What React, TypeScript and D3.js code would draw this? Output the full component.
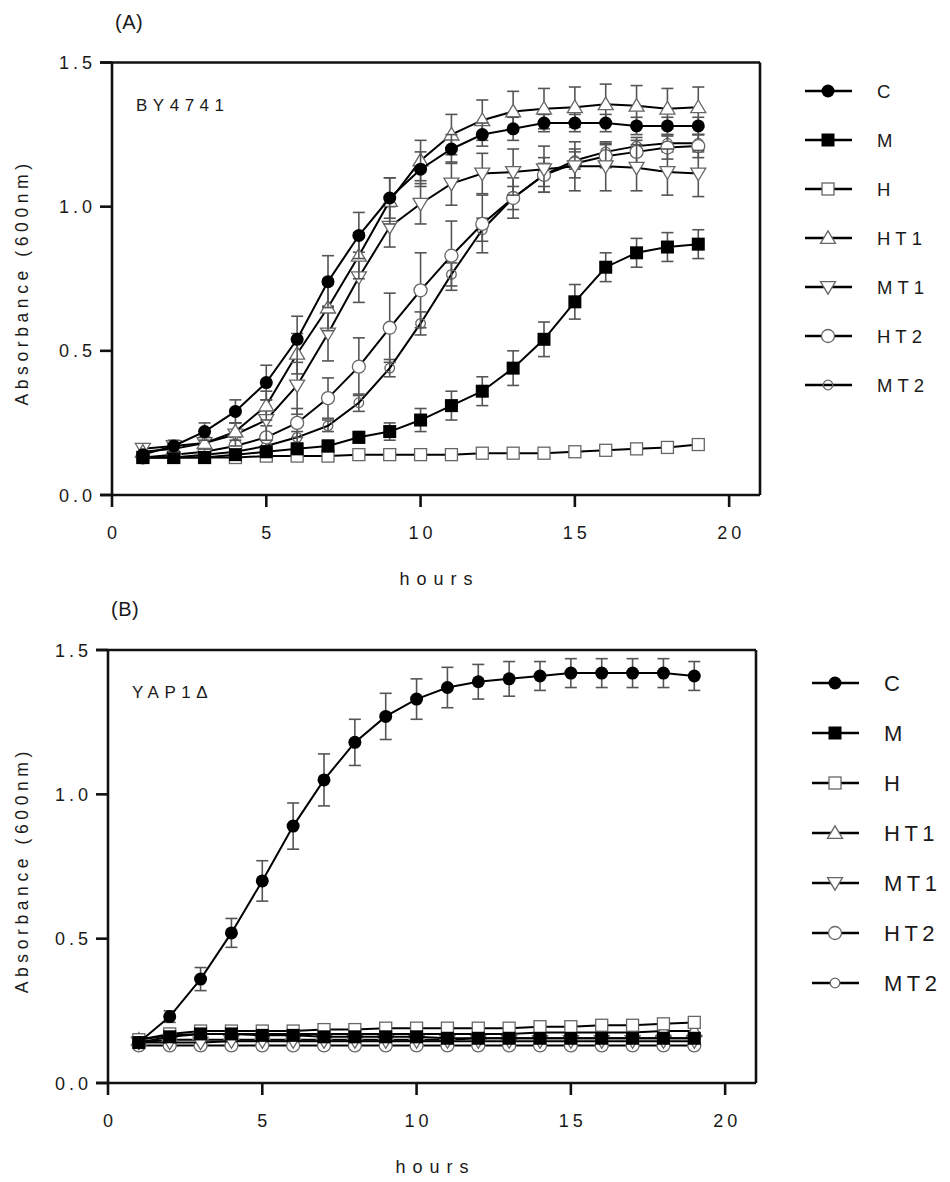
import React from "react";
import * as d3 from "d3";

const hours = [1,2,3,4,5,6,7,8,9,10,11,12,13,14,15,16,17,18,19];
const seriesNames = ["C","M","H","HT1","MT1","HT2","MT2"];
const xTicks = [0,5,10,15,20];
const yTicks = [0,0.5,1.0,1.5];
const yTickLabels = ["0.0","0.5","1.0","1.5"];

// Panel A (BY4741)
const aC = [0.14,0.17,0.22,0.29,0.39,0.54,0.74,0.90,1.03,1.13,1.20,1.25,1.27,1.29,1.29,1.29,1.28,1.28,1.28];
const aCErr = [0.01,0.02,0.03,0.04,0.06,0.08,0.09,0.08,0.07,0.06,0.05,0.04,0.04,0.03,0.03,0.03,0.03,0.03,0.03];
const aM = [0.13,0.13,0.13,0.14,0.15,0.16,0.17,0.20,0.22,0.26,0.31,0.36,0.44,0.54,0.67,0.79,0.84,0.86,0.87];
const aMErr = [0.01,0.01,0.01,0.01,0.01,0.01,0.02,0.02,0.03,0.04,0.05,0.05,0.06,0.06,0.06,0.05,0.05,0.05,0.05];
const aH = [0.13,0.13,0.13,0.13,0.135,0.135,0.135,0.14,0.14,0.14,0.14,0.145,0.145,0.145,0.15,0.155,0.16,0.165,0.175];
const aHErr = [0.005,0.005,0.005,0.005,0.005,0.005,0.005,0.005,0.005,0.005,0.005,0.005,0.005,0.005,0.005,0.005,0.005,0.005,0.005];
const aHT1 = [0.15,0.16,0.18,0.22,0.31,0.49,0.65,0.83,1.02,1.16,1.25,1.30,1.33,1.34,1.345,1.355,1.35,1.34,1.345];
const aHT1Err = [0.01,0.01,0.02,0.03,0.05,0.07,0.08,0.08,0.08,0.07,0.07,0.07,0.07,0.07,0.07,0.07,0.07,0.07,0.07];
const aMT1 = [0.16,0.17,0.18,0.21,0.26,0.38,0.56,0.755,0.93,1.01,1.08,1.115,1.12,1.13,1.14,1.14,1.135,1.12,1.115];
const aMT1Err = [0.01,0.01,0.02,0.04,0.07,0.10,0.095,0.087,0.07,0.07,0.075,0.07,0.08,0.08,0.085,0.085,0.08,0.08,0.08];
const aHT2 = [0.13,0.14,0.15,0.17,0.20,0.25,0.336,0.445,0.58,0.71,0.83,0.94,1.03,1.11,1.15,1.175,1.19,1.205,1.21];
const aHT2Err = [0.01,0.01,0.02,0.03,0.04,0.05,0.07,0.10,0.12,0.13,0.12,0.10,0.07,0.06,0.05,0.04,0.04,0.04,0.04];
const aMT2 = [0.13,0.13,0.14,0.15,0.17,0.20,0.24,0.32,0.44,0.595,0.765,0.92,1.03,1.11,1.16,1.19,1.21,1.22,1.22];
const aMT2Err = [0.005,0.01,0.01,0.01,0.02,0.02,0.02,0.03,0.03,0.04,0.04,0.04,0.04,0.04,0.03,0.03,0.03,0.03,0.03];

// Panel B (YAP1Δ)
const bC = [0.14,0.23,0.36,0.52,0.70,0.89,1.05,1.18,1.27,1.33,1.37,1.39,1.40,1.41,1.42,1.42,1.42,1.42,1.41];
const bCErr = [0.01,0.02,0.04,0.05,0.07,0.08,0.09,0.08,0.08,0.07,0.07,0.06,0.06,0.05,0.05,0.05,0.05,0.05,0.05];
const bM = [0.14,0.16,0.17,0.17,0.165,0.165,0.16,0.16,0.16,0.16,0.155,0.155,0.155,0.155,0.155,0.155,0.155,0.155,0.155];
const bH = [0.15,0.17,0.18,0.18,0.18,0.18,0.185,0.185,0.19,0.19,0.19,0.19,0.19,0.195,0.195,0.20,0.20,0.205,0.21];
const bHT1 = [0.15,0.165,0.17,0.17,0.17,0.17,0.17,0.17,0.17,0.17,0.17,0.17,0.17,0.175,0.175,0.175,0.175,0.18,0.18];
const bMT1 = [0.14,0.14,0.14,0.145,0.145,0.145,0.145,0.145,0.145,0.145,0.145,0.145,0.145,0.145,0.145,0.145,0.145,0.145,0.145];
const bHT2 = [0.13,0.13,0.13,0.13,0.13,0.13,0.13,0.13,0.13,0.13,0.13,0.13,0.13,0.13,0.13,0.13,0.13,0.13,0.13];
const bMT2 = [0.14,0.15,0.15,0.15,0.15,0.15,0.15,0.15,0.15,0.15,0.15,0.155,0.155,0.155,0.155,0.155,0.155,0.155,0.155];
const bSmallErr = [0.005,0.005,0.005,0.005,0.005,0.005,0.005,0.005,0.005,0.005,0.005,0.005,0.005,0.005,0.005,0.005,0.005,0.005,0.005];

const FONT = "'Liberation Sans', Arial, sans-serif";
const TEXT = "#1a1a1a";

type Series = { name: string; values: number[]; errs: number[] };

const panelA: Series[] = [
  { name: "C", values: aC, errs: aCErr },
  { name: "M", values: aM, errs: aMErr },
  { name: "H", values: aH, errs: aHErr },
  { name: "HT1", values: aHT1, errs: aHT1Err },
  { name: "MT1", values: aMT1, errs: aMT1Err },
  { name: "HT2", values: aHT2, errs: aHT2Err },
  { name: "MT2", values: aMT2, errs: aMT2Err },
];
const panelB: Series[] = [
  { name: "C", values: bC, errs: bCErr },
  { name: "M", values: bM, errs: bSmallErr },
  { name: "H", values: bH, errs: bSmallErr },
  { name: "HT1", values: bHT1, errs: bSmallErr },
  { name: "MT1", values: bMT1, errs: bSmallErr },
  { name: "HT2", values: bHT2, errs: bSmallErr },
  { name: "MT2", values: bMT2, errs: bSmallErr },
];

function Marker({ name, x, y, hollowMT2 = false }: { name: string; x: number; y: number; hollowMT2?: boolean }) {
  const open = { fill: "#fff", stroke: "#666", strokeWidth: 1.3 };
  switch (name) {
    case "C":
      return <circle cx={x} cy={y} r={6.5} fill="#000" />;
    case "M":
      return <rect x={x - 6.5} y={y - 6.5} width={13} height={13} fill="#000" />;
    case "H":
      return <rect x={x - 6} y={y - 6} width={12} height={12} {...open} />;
    case "HT1":
      return <path d={`M${x},${y - 7.2}L${x + 7.5},${y + 5.4}L${x - 7.5},${y + 5.4}Z`} {...open} />;
    case "MT1":
      return <path d={`M${x},${y + 7.2}L${x + 7.5},${y - 5.4}L${x - 7.5},${y - 5.4}Z`} {...open} />;
    case "HT2":
      return <circle cx={x} cy={y} r={6.5} {...open} />;
    case "MT2":
      return <circle cx={x} cy={y} r={4.8} {...open} fill={hollowMT2 ? "none" : "#fff"} />;
  }
  return null;
}

function spacedText(str: string, x: number, y: number, size: number, ls: number, anchor: string, extra: any = {}) {
  const dx = anchor === "middle" ? ls / 2 : anchor === "end" ? ls : 0;
  return (
    <text x={x + dx} y={y} fontFamily={FONT} fontSize={size} letterSpacing={ls} textAnchor={anchor} fill={TEXT} {...extra}>
      {str}
    </text>
  );
}

function Panel({ data, left, right, top, bottom, panelLabel, strain, legX, legY0, legStep, legFont, legLs, hollowMT2 }: any) {
  const x = d3.scaleLinear().domain([0, 21]).range([left, right]);
  const y = d3.scaleLinear().domain([0, 1.5]).range([bottom, top]);
  const line = d3.line<number>().x((_, i) => x(hours[i])).y((v) => y(v));
  const order = [...data].reverse();
  return (
    <g>
      {spacedText(panelLabel, left + 3, top - 34, 20, 0.5, "start")}
      {spacedText(strain, left + 24, top + 48, 17, 5.5, "start")}
      <g stroke="#111" strokeWidth={2.6} fill="none">
        <line x1={left - 12} y1={top} x2={right} y2={top} />
        <line x1={right} y1={top} x2={right} y2={bottom} />
        <line x1={left} y1={top} x2={left} y2={bottom} />
        <line x1={left - 12} y1={bottom} x2={right} y2={bottom} />
        {yTicks.map((t) => (
          <line key={t} x1={left - 12} x2={left} y1={y(t)} y2={y(t)} />
        ))}
        {xTicks.map((t) => (
          <line key={t} x1={x(t)} x2={x(t)} y1={bottom} y2={bottom + 12} />
        ))}
      </g>
      {yTicks.map((t, i) => (
        <g key={t}>{spacedText(yTickLabels[i], left - 20, y(t) + 6.5, 18, 4, "end")}</g>
      ))}
      {xTicks.map((t) => (
        <g key={t}>{spacedText(String(t), x(t), bottom + 44, 18, 4, "middle")}</g>
      ))}
      {spacedText("hours", x(10.5), bottom + 90, 18, 7, "middle")}
      {spacedText("Absorbance (600nm)", 0, 0, 17.5, 4.6, "middle", {
        transform: `translate(${28},${(top + bottom) / 2 + 6}) rotate(-90)`,
      })}
      {order.map((s: Series) => (
        <g key={s.name}>
          <g stroke="#555" strokeWidth={1.6}>
            {s.values.map((v, i) => {
              const e = s.errs[i];
              if (y(v - e) - y(v + e) < 6) return null;
              const cx = x(hours[i]);
              return (
                <g key={i}>
                  <line x1={cx} x2={cx} y1={y(v - e)} y2={y(v + e)} />
                  <line x1={cx - 6} x2={cx + 6} y1={y(v - e)} y2={y(v - e)} />
                  <line x1={cx - 6} x2={cx + 6} y1={y(v + e)} y2={y(v + e)} />
                </g>
              );
            })}
          </g>
          <path d={line(s.values) || ""} fill="none" stroke="#000" strokeWidth={2} />
          {s.values.map((v, i) => (
            <Marker key={i} name={s.name} x={x(hours[i])} y={y(v)} hollowMT2={hollowMT2} />
          ))}
        </g>
      ))}
      {seriesNames.map((n, i) => {
        const ly = legY0 + i * legStep;
        return (
          <g key={n}>
            <line x1={legX} x2={legX + 47} y1={ly} y2={ly} stroke="#000" strokeWidth={2.6} />
            <Marker name={n} x={legX + 23} y={ly} hollowMT2={hollowMT2} />
            {spacedText(n, legX + 72, ly + legFont * 0.36, legFont, legLs, "start")}
          </g>
        );
      })}
    </g>
  );
}

export default function App() {
  return (
    <svg width={950} height={1182} viewBox="0 0 950 1182" style={{ display: "block", margin: "-8px" }}>
      <rect x={0} y={0} width={950} height={1182} fill="#fff" />
      <Panel data={panelA} left={112} right={760} top={62.5} bottom={495} panelLabel="(A)" strain="BY4741"
        legX={805} legY0={91} legStep={49} legFont={18.5} legLs={5} hollowMT2={true} />
      <Panel data={panelB} left={108} right={756} top={650} bottom={1083} panelLabel="(B)" strain="YAP1Δ"
        legX={812} legY0={683} legStep={50} legFont={22} legLs={4.5} hollowMT2={false} />
    </svg>
  );
}
